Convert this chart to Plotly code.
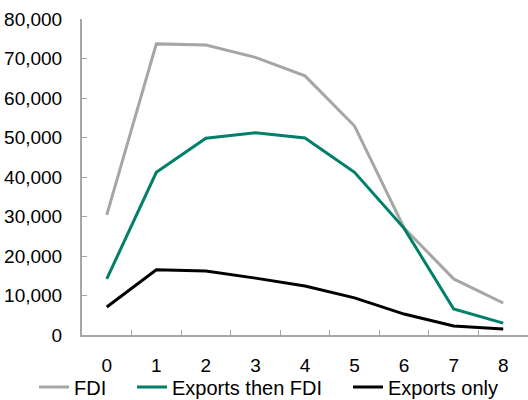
import plotly.graph_objects as go

years = ["0", "1", "2", "3", "4", "5", "6", "7", "8"]
fdi = [30400, 73700, 73400, 70300, 65600, 52900, 27100, 14200, 8100]
exports_then_fdi = [14200, 41200, 49800, 51200, 49900, 41200, 27000, 6600, 3000]
exports_only = [7100, 16500, 16200, 14400, 12400, 9400, 5300, 2300, 1500]

series = [
    ("FDI", fdi, "#A6A6A6", "legend", 39),
    ("Exports then FDI", exports_then_fdi, "#00806A", "legend2", 137),
    ("Exports only", exports_only, "#000000", "legend3", 353),
]

W, H = 528, 400
L, R, T, B = 82, 0, 19, 65

fig = go.Figure()
legends = {}
for name, vals, col, lg, px in series:
    fig.add_trace(go.Scatter(x=years, y=vals, mode="lines", name=name,
                             line=dict(color=col, width=3), legend=lg))
    legends[lg] = dict(orientation="h", xref="container", yref="container",
                       x=(px - 5) / W, xanchor="left",
                       y=(H - 387) / H, yanchor="middle",
                       font=dict(size=20), itemwidth=30,
                       bgcolor="rgba(0,0,0,0)", borderwidth=0)

axis_col = "#A6A6A6"
fig.update_layout(
    width=W, height=H,
    margin=dict(l=L, r=R, t=T, b=B),
    plot_bgcolor="white", paper_bgcolor="white",
    font=dict(family="Liberation Sans, Arial, sans-serif", size=19, color="#000000"),
    showlegend=True,
    xaxis=dict(type="category", showline=True, linecolor=axis_col, linewidth=2,
               ticks="inside", ticklen=5, tickcolor=axis_col, tickwidth=1,
               tickson="boundaries", showgrid=False, zeroline=False,
               range=[-0.5, 8.5], automargin=False, ticklabelstandoff=12),
    yaxis=dict(range=[0, 80000], dtick=10000, tickformat=",", showline=True,
               linecolor=axis_col, linewidth=2, ticks="inside", ticklen=5,
               tickcolor=axis_col, tickwidth=1, showgrid=False, zeroline=False,
               ticklabelstandoff=14, automargin=False),
    **legends,
)

fig.write_html("out.html", config={"displayModeBar": False},
               post_script="document.body.style.margin='0px';document.body.style.overflow='hidden';")
